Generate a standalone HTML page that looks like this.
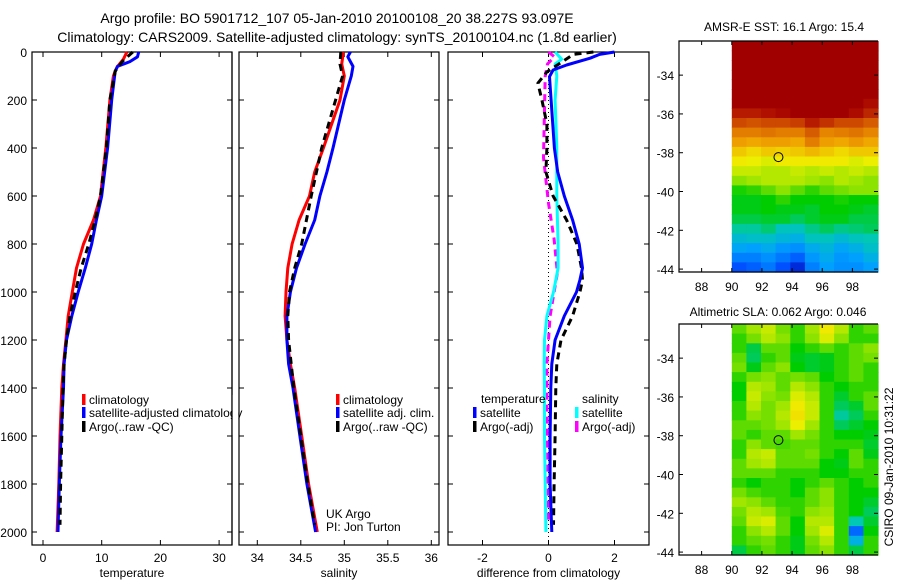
<!DOCTYPE html>
<html><head><meta charset="utf-8"><style>
body{margin:0;background:#fff;}
svg{display:block;font-family:"Liberation Sans",sans-serif;}
</style></head><body>
<svg id="fig" width="900" height="580" viewBox="0 0 900 580">
<rect width="900" height="580" fill="#fff"/>
<text x="337" y="23" font-size="14" text-anchor="middle">Argo profile: BO 5901712_107 05-Jan-2010 20100108_20 38.227S 93.097E</text>
<text x="337" y="42" font-size="14" text-anchor="middle">Climatology: CARS2009. Satellite-adjusted climatology: synTS_20100104.nc (1.8d earlier)</text>
<g id="plots"></g>
<text x="326" y="518" font-size="12">UK Argo</text>
<text x="326" y="531" font-size="12">PI: Jon Turton</text>
<text x="784" y="31" font-size="12" text-anchor="middle">AMSR-E SST: 16.1 Argo: 15.4</text>
<text x="778" y="316" font-size="12" text-anchor="middle">Altimetric SLA: 0.062 Argo: 0.046</text>
<text transform="translate(893,467) rotate(-90)" font-size="12" text-anchor="middle">CSIRO 09-Jan-2010 10:31:22</text>
</svg>
<script>
// ---- profile data (depth in dbar) ----
const tClimDepth=[0,30,60,80,100,200,400,600,700,800,900,1000,1100,1200,1300,1400,1600,1800,2000];
const tClimVal=[14.3,13.7,12.7,12.3,12.0,11.4,10.7,9.8,8.6,6.9,5.7,5.0,4.3,3.9,3.5,3.2,2.9,2.7,2.4];
const tSatDepth=[0,20,40,60,80,200,400,600,700,800,900,1000,1100,1200,1300,1400,1600,1800,2000];
const tSatVal=[16.3,16.1,14.8,12.7,12.3,11.7,11.0,10.0,9.1,8.3,7.2,6.0,4.9,4.0,3.6,3.5,3.07,2.78,2.56];
const tArgoDepth=[0,40,80,200,400,600,700,800,900,1000,1100,1200,1300,1400,1600,1800,1970];
const tArgoVal=[15.3,13.5,12.3,11.4,10.8,9.8,8.9,7.8,6.5,5.5,4.6,4.0,3.6,3.4,3.2,3.0,2.9];
const sClimDepth=[0,50,100,200,400,500,600,700,800,900,1000,1100,1200,1300,1400,1600,1800,2000];
const sClimVal=[34.99,34.97,35.0,34.95,34.76,34.66,34.6,34.48,34.4,34.35,34.33,34.32,34.34,34.38,34.43,34.51,34.59,34.69];
const sSatDepth=[0,20,60,100,200,400,500,600,700,800,900,1000,1100,1200,1300,1400,1600,1800,2000];
const sSatVal=[35.07,35.04,35.1,35.08,35.0,34.87,34.8,34.72,34.66,34.55,34.45,34.38,34.34,34.34,34.36,34.41,34.49,34.57,34.67];
const sArgoDepth=[0,50,100,200,400,600,800,900,1000,1100,1200,1400,1600,1800,1970];
const sArgoVal=[34.96,34.95,34.98,34.9,34.74,34.62,34.51,34.43,34.37,34.35,34.36,34.42,34.5,34.58,34.66];
const dTSatDepth=[0,10,26,54,75,103,200,400,500,600,700,800,900,950,1000,1100,1200,1300,1400,1600,1800,2000];
const dTSatVal=[2.0,1.55,1.26,0.55,0.14,0.03,0.08,0.18,0.28,0.48,0.73,0.93,1.03,0.95,0.85,0.48,0.2,0.1,0.07,0.05,0.05,0.1];
const dTArgoDepth=[0,10,83,130,200,300,400,500,600,700,800,900,950,1000,1100,1200,1300,1400,1600,1800,1970];
const dTArgoVal=[1.36,0.75,-0.05,-0.32,-0.2,-0.05,-0.05,-0.08,0.14,0.55,0.86,1.0,1.03,0.95,0.73,0.38,0.25,0.22,0.2,0.17,0.15];
const dSSatDepth=[0,30,50,100,200,400,600,800,900,1000,1100,1200,1300,1400,1600,1800,2000];
const dSSatVal=[0.2,0.4,0.2,0.25,0.2,0.25,0.25,0.29,0.29,0.15,-0.05,-0.12,-0.13,-0.12,-0.12,-0.1,-0.08];
const dSArgoDepth=[0,20,50,100,440,630,780,920,1000,1100,1300,1500,1700,1970];
const dSArgoVal=[0,0.18,-0.03,-0.1,-0.15,0,0.17,0.27,0.17,0.05,-0.05,-0.05,-0.02,0];
const depthTicks=[0,200,400,600,800,1000,1200,1400,1600,1800,2000];
const tempTicks=[0,10,20,30];
const salTicks=[34,34.5,35,35.5,36];
const salTickLabels=["34","34.5","35","35.5","36"];
const diffTicks=[-2,0,2];
// ---- map data: 24 rows (lat -32.24 → -44.15) × 10 cols (lon 90 → 99.7) ----
const latTicks=[-34,-36,-38,-40,-42,-44];
const lonTicks=[88,90,92,94,96,98];
const argoLon=93.097, argoLat=-38.227;
const sstGrid=[
[19,19,19,19,19,19,19,19,19,19],
[19,19,19,19,19,19,19,19,19,19],
[19,19,19,19,19,19,19,19,19,19],
[19,19,19,19,19,19,19,19,19,19],
[19,19,19,19,19,19,19,19,19,19],
[19,19,19,19,19,19,19,19,19,19],
[19,19,19,19,19,19,19,19,19,18.7],
[18.5,18.5,18.6,18.8,19,19,19,19,18.7,18.4],
[18.1,18.0,18.1,18.1,18.2,18.5,18.3,18.1,18.1,17.9],
[17.5,17.5,17.6,17.5,17.5,17.9,17.4,17.5,17.6,17.4],
[17.1,17.0,17.1,17.1,17.0,17.5,17.1,17.0,17.2,17.0],
[16.6,16.4,16.6,16.5,16.6,16.8,16.6,16.4,16.6,16.6],
[16.2,16.1,16.0,16.2,16.2,16.2,16.2,16.2,16.0,16.1],
[15.9,15.9,15.8,15.8,15.9,15.8,15.9,15.8,15.9,15.8],
[15.6,15.7,15.8,15.8,15.8,15.7,15.6,15.8,15.7,15.6],
[15.1,15.2,15.4,15.6,15.4,15.2,15.4,15.5,15.6,15.6],
[14.9,14.9,15.0,15.2,15.0,15.0,15.0,15.1,15.0,15.0],
[14.9,14.9,15.0,14.9,14.9,14.8,15.0,15.0,14.9,14.8],
[14.7,14.7,14.8,14.8,14.6,14.8,14.9,14.9,14.7,14.7],
[14.3,14.3,14.5,14.1,14.1,14.4,14.6,14.4,14.5,14.6],
[13.9,14.0,14.0,13.8,13.7,14.1,14.1,13.9,14.1,14.2],
[13.5,13.4,13.6,13.3,13.2,13.6,13.8,13.5,13.7,14.0],
[13.0,13.0,13.2,12.9,12.6,13.3,13.6,13.3,13.4,13.7],
[12.4,12.6,12.9,12.4,11.8,13.0,13.4,13.2,13.2,13.4]];
const slaGrid=[
[0.02,0.05,0.07,0.03,0,0.05,0.1,0.06,0,0.02],
[0,0.03,0.06,0.04,0,0.04,0.08,0.04,0,0],
[0,-0.05,0.02,0.02,-0.02,0,0.02,0,0.02,0.04],
[0.02,-0.06,0,0.02,-0.03,-0.04,-0.03,0,0.02,0.03],
[0.03,-0.03,0.02,0.04,-0.02,-0.04,-0.03,0,0.02,0],
[0,0.03,0.04,0.02,0.03,0.02,-0.02,0,0.02,0],
[-0.02,0.06,0.05,0.02,0.06,0.04,0,-0.02,0,0],
[-0.02,0.07,0.04,0.03,0.08,0.06,0,-0.04,0,0.02],
[0,0.06,0.03,0.05,0.1,0.07,0,-0.06,-0.04,0.02],
[0,0.04,0.03,0.06,0.11,0.07,0,-0.09,-0.06,0],
[0.02,0.02,0.03,0.05,0.09,0.05,0,-0.06,-0.04,-0.02],
[0.02,0,0.02,0.02,0.05,0.03,0,-0.02,-0.02,-0.03],
[0,0.04,0.02,0.01,0.02,0.02,0,0,0,-0.04],
[0,0.06,0.07,0.02,0.02,0.03,0,-0.02,0.02,-0.03],
[0.02,0.05,0.06,0.02,0.02,0.02,-0.02,-0.03,0.02,0],
[0.02,0.02,0.02,0,0,0,-0.02,-0.02,0,0],
[0,-0.02,0,0,-0.02,0,0.02,0,-0.02,0],
[0.03,0.01,0,0,-0.02,0.02,0.04,0,-0.02,-0.02],
[0.05,0.04,0.02,0,0,0.02,0.04,0,-0.02,-0.04],
[0.03,0.06,0.05,0.01,0,0.04,0.05,0,-0.02,-0.06],
[0.02,0.07,0.08,0.02,-0.02,0.06,0.06,0,-0.1,-0.04],
[0,0.04,0.06,0.02,-0.02,0.05,0.08,0,-0.25,-0.02],
[0,0.02,0.03,0,-0.03,0.03,0.06,0,-0.15,0],
[-0.05,0,0.02,0,-0.03,0.02,0.04,0,-0.05,0]];

const NS='http://www.w3.org/2000/svg';
const root=document.getElementById('plots');
function mk(tag,attrs,parent){const e=document.createElementNS(NS,tag);for(const k in attrs)e.setAttribute(k,attrs[k]);(parent||root).appendChild(e);return e;}
const yD=d=>52+d*0.24;
const cmapStops=[[0,[0,0,144]],[0.15,[0,64,255]],[0.3,[0,160,255]],[0.4,[0,200,180]],[0.5,[0,205,0]],[0.58,[150,228,0]],[0.64,[240,240,0]],[0.76,[240,160,0]],[0.88,[208,80,0]],[0.95,[176,16,0]],[1,[160,0,0]]];
function cmap(t){t=Math.max(0,Math.min(1,t));for(let i=1;i<cmapStops.length;i++){const [t1,c1]=cmapStops[i],[t0,c0]=cmapStops[i-1];if(t<=t1){const f=(t-t0)/(t1-t0);return `rgb(${c0.map((v,k)=>Math.round(v+(c1[k]-v)*f)).join(',')})`;}}return 'rgb(160,0,0)';}

function panel(name,x0,x1,xs,ticks,labels,title,ylabels){
  const g=mk('g',{});
  
  
  const fr=mk('rect',{x:x0,y:52,width:x1-x0,height:493,fill:'none',stroke:'#000','stroke-width':1.2},g);
  
  
  depthTicks.forEach(d=>{
    mk('line',{x1:x0,x2:x0+5,y1:yD(d),y2:yD(d),stroke:'#000'},g);
    mk('line',{x1:x1,x2:x1-5,y1:yD(d),y2:yD(d),stroke:'#000'},g);
    if(ylabels){const t=mk('text',{x:x0-5,y:yD(d)+5,'font-size':12,'text-anchor':'end'},g);t.textContent=String(d);
      
      }
  });
  ticks.forEach((v,i)=>{
    mk('line',{x1:xs(v),x2:xs(v),y1:545,y2:540,stroke:'#000'},g);
    mk('line',{x1:xs(v),x2:xs(v),y1:52,y2:57,stroke:'#000'},g);
    const t=mk('text',{x:xs(v),y:562,'font-size':12,'text-anchor':'middle'},g);t.textContent=labels[i];
    
    
  });
  const tt=mk('text',{x:(x0+x1)/2,y:577,'font-size':12,'text-anchor':'middle'},g);tt.textContent=title;
  
  
  return g;
}
function line(g,xs,depths,vals,color,dash,nm){
  const pts=depths.map((d,i)=>xs(vals[i]).toFixed(1)+','+yD(d).toFixed(1)).join(' ');
  const a={points:pts,fill:'none',stroke:color,'stroke-width':3,'stroke-linejoin':'round'};
  if(dash)a['stroke-dasharray']=dash;
  const p=mk('polyline',a,g);
  
  
}
function legend(g,x,y,color,label,nm){
  mk('rect',{x:x,y:y-10,width:3.5,height:11,fill:color},g);
  const t=mk('text',{x:x+7,y:y,'font-size':12},g);t.textContent=label;
  
  
}

// Panel 1 temperature
const xT=v=>43+v*5.87;
const g1=panel('temperature-panel',32,232,xT,tempTicks,tempTicks.map(String),'temperature',true);
line(g1,xT,tClimDepth,tClimVal,'#f00',null,'temp-climatology-line');
line(g1,xT,tSatDepth,tSatVal,'#00f',null,'temp-satellite-line');
line(g1,xT,tArgoDepth,tArgoVal,'#000','7,5','temp-argo-line');
legend(g1,82,404,'#f00','climatology','legend-climatology');
legend(g1,82,417,'#00f','satellite-adjusted climatology','legend-satellite-adjusted');
legend(g1,82,431,'#000','Argo(..raw -QC)','legend-argo');
mk('rect',{x:232.6,y:395,width:5.8,height:40,fill:'#fff'},g1);
mk('line',{x1:232,x2:232,y1:52,y2:545,stroke:'#000','stroke-width':1.2},g1);

// Panel 2 salinity
const xS=v=>257.3+(v-34)*87;
const g2=panel('salinity-panel',239,439,xS,salTicks,salTickLabels,'salinity',false);
line(g2,xS,sClimDepth,sClimVal,'#f00',null,'sal-climatology-line');
line(g2,xS,sSatDepth,sSatVal,'#00f',null,'sal-satellite-line');
line(g2,xS,sArgoDepth,sArgoVal,'#000','7,5','sal-argo-line');
legend(g2,336,404,'#f00','climatology','legend-climatology');
legend(g2,336,417,'#00f','satellite adj. clim.','legend-satellite-adj');
legend(g2,336,431,'#000','Argo(..raw -QC)','legend-argo');

// Panel 3 difference
const xDf=v=>548.5+v*33;
const g3=panel('difference-panel',448,649,xDf,diffTicks,diffTicks.map(String),'difference from climatology',false);
mk('line',{x1:xDf(0),x2:xDf(0),y1:52,y2:545,stroke:'#000','stroke-dasharray':'1,3'},g3);
line(g3,xDf,dSArgoDepth,dSArgoVal,'#f0f','7,5','sal-argo-diff-line');
line(g3,xDf,dSSatDepth,dSSatVal,'#0ff',null,'sal-satellite-diff-line');
line(g3,xDf,dTArgoDepth,dTArgoVal,'#000','7,5','temp-argo-diff-line');
line(g3,xDf,dTSatDepth,dTSatVal,'#00f',null,'temp-satellite-diff-line');
const lt=mk('text',{x:481,y:403,'font-size':12},g3);lt.textContent='temperature';


const ls=mk('text',{x:582,y:403,'font-size':12},g3);ls.textContent='salinity';


legend(g3,473,417,'#00f','satellite','legend-temp-satellite');
legend(g3,473,431,'#000','Argo(-adj)','legend-temp-argo');
legend(g3,575,417,'#0ff','satellite','legend-sal-satellite');
legend(g3,575,431,'#f0f','Argo(-adj)','legend-sal-argo');

// Maps
function map(name,top,grid,vmin,vmax){
  const left=679,right=878,bot=top+231;
  const lonL=86.5,lonR=99.7,latT=-32.24,latB=-44.15;
  const mx=v=>left+(v-lonL)*(right-left)/(lonR-lonL);
  const my=v=>top+(latT-v)*(bot-top)/(latT-latB);
  const g=mk('g',{});
  
  
  const nr=grid.length,nc=grid[0].length;
  const dLon=(lonR-90)/nc,dLat=(latT-latB)/nr;
  grid.forEach((row,r)=>row.forEach((v,c)=>{
    const x=mx(90+c*dLon),y=my(latT-r*dLat);
    const cell=mk('rect',{x:x.toFixed(1),y:y.toFixed(1),width:(mx(90+(c+1)*dLon)-x+0.6).toFixed(1),height:(my(latT-(r+1)*dLat)-y+0.6).toFixed(1),fill:cmap((v-vmin)/(vmax-vmin))},g);
    
    
  }));
  mk('path',{d:`M${right},${top}H${left}V${bot}H${right}`,fill:'none',stroke:'#000','stroke-width':1.2},g);
  latTicks.forEach(v=>{
    mk('line',{x1:left,x2:left+4,y1:my(v),y2:my(v),stroke:'#000'},g);
    mk('line',{x1:right,x2:right-4,y1:my(v),y2:my(v),stroke:'#000'},g);
    const t=mk('text',{x:left-5,y:my(v)+5,'font-size':12,'text-anchor':'end'},g);t.textContent=String(v);
    
    
  });
  lonTicks.forEach(v=>{
    mk('line',{x1:mx(v),x2:mx(v),y1:bot,y2:bot-4,stroke:'#000'},g);
    mk('line',{x1:mx(v),x2:mx(v),y1:top,y2:top+4,stroke:'#000'},g);
    const t=mk('text',{x:mx(v),y:bot+19,'font-size':12,'text-anchor':'middle'},g);t.textContent=String(v);
    
    
  });
  const c=mk('circle',{cx:mx(argoLon),cy:my(argoLat),r:4.5,fill:'none',stroke:'#000'},g);
  
  
}
map('sst-map',41,sstGrid,11,19);
map('sla-map',324,slaGrid,-0.42,0.38);
</script>
</body></html>
